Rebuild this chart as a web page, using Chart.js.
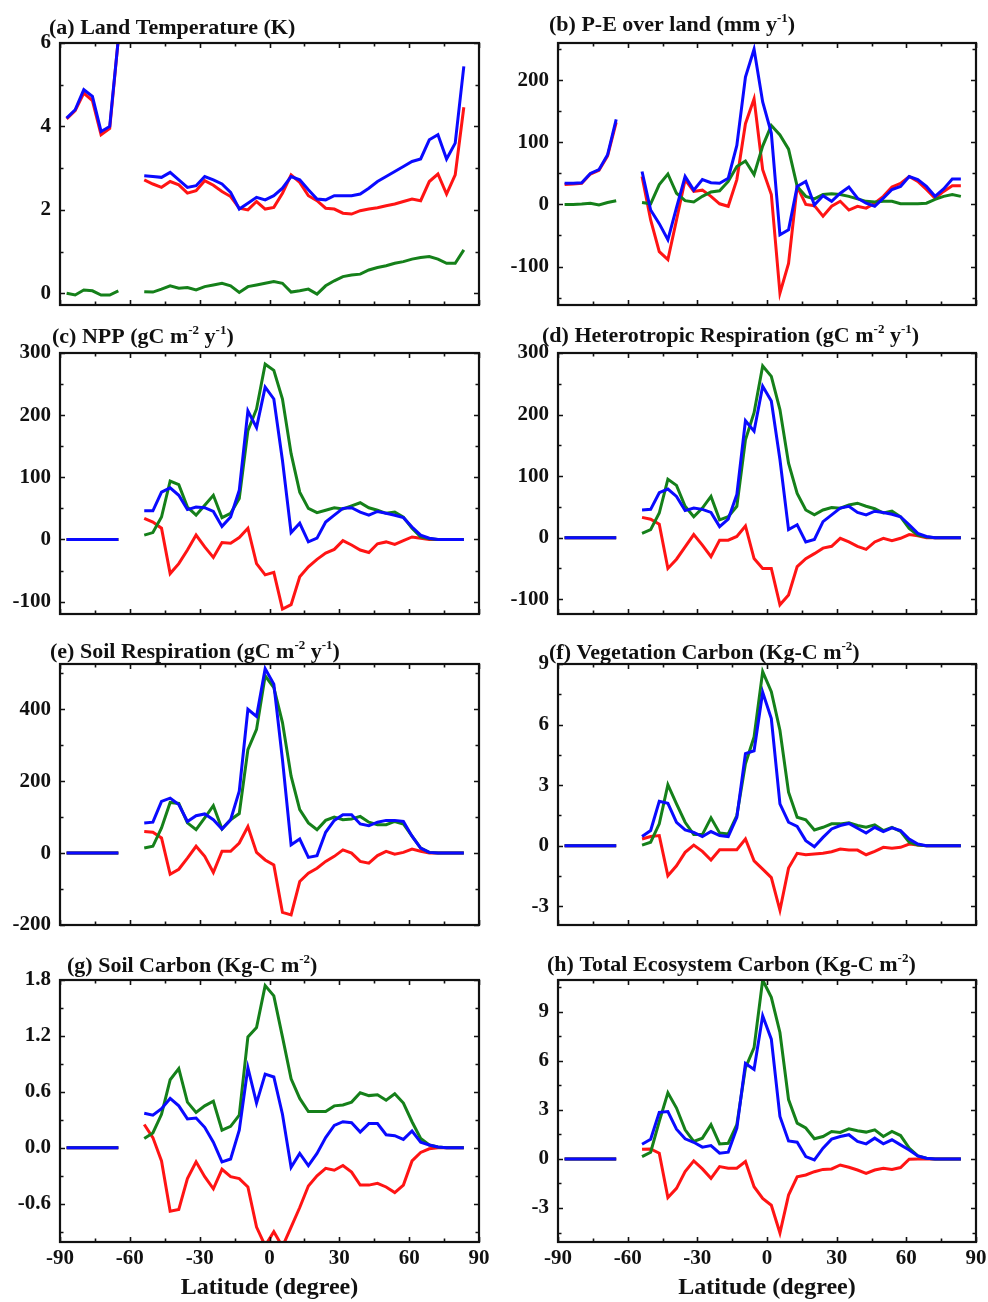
<!DOCTYPE html>
<html><head><meta charset="utf-8">
<script src="https://cdn.jsdelivr.net/npm/chart.js@4.4.1/dist/chart.umd.min.js"></script>
<style>
html,body{margin:0;padding:0;background:#fff;}
body{width:988px;height:1302px;position:relative;overflow:hidden;}
.panel{position:absolute;}
.panel canvas{display:block;}
</style></head><body>
<script>
// Gaussian-grid latitudes (degrees)
const latitudes = [-87.16,-83.48,-79.78,-76.07,-72.36,-68.65,-64.94,-61.23,-57.52,-53.81,-50.10,-46.39,-42.68,-38.97,-35.26,-31.54,-27.83,-24.12,-20.41,-16.70,-12.99,-9.28,-5.57,-1.86,1.86,5.57,9.28,12.99,16.70,20.41,24.12,27.83,31.54,35.26,38.97,42.68,46.39,50.10,53.81,57.52,61.23,64.94,68.65,72.36,76.07,79.78,83.48];
const xMajorTicks = [-90,-60,-30,0,30,60,90];
const xMinorTicks = [-75,-45,-15,15,45,75];

// (a) Land temperature
const tempBlue  = [4.2,4.4,4.88,4.72,3.88,4.0,6.1,null,null,2.82,2.8,2.78,2.9,2.72,2.54,2.58,2.8,2.72,2.62,2.42,2.02,2.16,2.3,2.24,2.34,2.52,2.8,2.72,2.48,2.26,2.24,2.34,2.34,2.34,2.38,2.52,2.68,2.8,2.92,3.04,3.16,3.22,3.68,3.8,3.22,3.6,5.44];
const tempRed   = [4.18,4.38,4.8,4.62,3.8,3.95,6.1,null,null,2.72,2.62,2.54,2.68,2.6,2.4,2.46,2.7,2.59,2.44,2.32,2.04,2.0,2.2,2.02,2.06,2.4,2.84,2.66,2.34,2.22,2.04,2.02,1.92,1.9,1.98,2.02,2.05,2.1,2.14,2.2,2.26,2.22,2.68,2.86,2.38,2.84,4.46];
const tempGreen = [0,-0.04,0.08,0.06,-0.04,-0.04,0.06,null,null,0.04,0.03,0.1,0.18,0.12,0.14,0.08,0.16,0.2,0.24,0.18,0.02,0.16,0.2,0.24,0.28,0.24,0.03,0.06,0.1,-0.02,0.18,0.3,0.4,0.44,0.46,0.56,0.62,0.66,0.72,0.76,0.82,0.86,0.88,0.82,0.72,0.72,1.04];
const tempTicks = [0,2,4,6];
const tempMinor = [1,3,5];

// (b) P-E over land
const peBlue  = [34,34,35,50,56,80,137,null,null,53,-9,-31,-57,-5,45,23,40,35,34,42,95,205,250,165,115,-49,-41,29,37,-1,14,5,18,28,10,2,-3,10,24,29,45,40,29,13,25,41,41];
const peRed   = [32,33,34,49,55,78,132,null,null,45,-25,-76,-89,-25,40,21,23,13,1,-3,40,130,170,56,16,-143,-95,29,0,-2,-19,-3,5,-9,-3,-6,2,13,28,34,45,37,24,10,21,30,30];
const peGreen = [0,0,0.5,2,-1,3,6,null,null,3,1,32,49,18,6,4,13,20,22,37,61,70,48,94,127,112,89,29,13,9,16,17,16,13,9,5,4,5,5,1,1,1,2,8,13,16,13];
const peTicks = [-100,0,100,200];
const peMinor = [-150,-50,50,150,250];

// (c) NPP
const nppBlue  = [0,0,0,0,0,0,0,null,null,46,46,76,83,71,48,52,51,45,21,36,79,207,180,245,226,127,11,26,-4,2,28,39,50,51,44,39,45,42,39,35,20,7,2,0,0,0,0];
const nppGreen = [0,0,0,0,0,0,0,null,null,7,11,36,94,88,52,39,55,71,35,42,66,175,210,282,272,226,138,76,50,43,47,51,49,54,59,51,47,42,44,36,18,4,1,0,0,0,0];
const nppRed   = [0,0,0,0,0,0,0,null,null,34,28,18,-55,-39,-17,7,-12,-29,-5,-6,3,18,-39,-57,-53,-112,-105,-60,-44,-32,-22,-16,-2,-9,-17,-21,-7,-4,-8,-2,4,2,0,0,0,0,0];
const nppTicks = [-100,0,100,200,300];
const nppMinor = [-50,50,150,250];

// (d) Heterotrophic respiration
const hrBlue  = [0,0,0,0,0,0,0,null,null,45,46,73,79,67,44,48,46,41,18,30,70,190,173,246,222,127,13,21,-7,-3,26,37,48,51,41,37,43,41,38,34,21,7,2,0,0,0,0];
const hrGreen = [0,0,0,0,0,0,0,null,null,7,13,40,95,85,51,34,48,67,29,34,51,159,203,279,262,208,121,72,45,37,45,49,48,53,56,51,47,40,43,34,15,4,1,0,0,0,0];
const hrRed   = [0,0,0,0,0,0,0,null,null,33,30,22,-50,-35,-15,5,-12,-31,-4,-4,2,19,-34,-50,-50,-109,-93,-47,-34,-26,-17,-14,-1,-7,-14,-19,-7,-1,-5,-1,5,3,0,0,0,0,0];
const hrTicks = [-100,0,100,200,300];
const hrMinor = [-50,50,150,250];

// (e) Soil respiration
const srBlue  = [0,0,0,0,0,0,0,null,null,84,86,144,153,135,88,104,109,93,67,93,172,400,380,513,470,260,23,39,-12,-7,58,91,107,107,81,76,86,91,91,88,47,14,2,0,0,0,0];
const srGreen = [0,0,0,0,0,0,0,null,null,14,19,70,141,138,84,65,98,132,67,93,110,288,344,493,460,363,214,121,84,65,91,100,93,95,102,86,79,79,88,81,47,14,2,0,0,0,0];
const srRed   = [0,0,0,0,0,0,0,null,null,60,58,42,-59,-45,-14,19,-9,-54,5,5,28,74,2,-19,-33,-165,-172,-79,-56,-42,-23,-9,9,0,-23,-28,-7,5,-3,2,11,5,0,0,0,0,0];
const srTicks = [-200,0,200,400];
const srMinor = [-100,100,300,500];

// (f) Vegetation carbon
const vcBlue  = [0,0,0,0,0,0,0,null,null,0.45,0.75,2.2,2.1,1.16,0.78,0.66,0.45,0.7,0.5,0.45,1.4,4.56,4.7,7.6,6.3,2.07,1.16,0.95,0.25,-0.05,0.41,0.83,1.0,1.1,0.86,0.63,0.91,0.7,0.88,0.75,0.33,0.08,0,0,0,0,0];
const vcGreen = [0,0,0,0,0,0,0,null,null,0.03,0.17,1.08,3.02,2.07,1.16,0.55,0.55,1.38,0.63,0.58,1.49,4.06,5.39,8.62,7.63,5.72,2.65,1.41,1.28,0.78,0.91,1.08,1.08,1.13,1.0,0.91,1.03,0.75,0.91,0.71,0.17,0.03,0,0,0,0,0];
const vcRed   = [0,0,0,0,0,0,0,null,null,0.33,0.45,0.5,-1.49,-1.0,-0.33,0.03,-0.28,-0.71,-0.2,-0.2,-0.2,0.33,-0.75,-1.16,-1.58,-3.2,-1.11,-0.38,-0.45,-0.41,-0.38,-0.3,-0.17,-0.22,-0.22,-0.45,-0.28,-0.08,-0.13,-0.08,0.08,0.03,0,0,0,0,0];
const vcTicks = [-3,0,3,6,9];
const vcMinor = [-1.5,1.5,4.5,7.5];

// (g) Soil carbon
const scBlue  = [0,0,0,0,0,0,0,null,null,0.37,0.35,0.42,0.53,0.45,0.31,0.32,0.22,0.06,-0.15,-0.12,0.19,0.86,0.48,0.79,0.76,0.36,-0.21,-0.06,-0.19,-0.06,0.11,0.24,0.28,0.27,0.17,0.26,0.26,0.14,0.13,0.09,0.18,0.06,0.03,0.01,0,0,0];
const scGreen = [0,0,0,0,0,0,0,null,null,0.1,0.16,0.36,0.73,0.85,0.49,0.38,0.45,0.5,0.19,0.23,0.35,1.19,1.29,1.74,1.63,1.19,0.74,0.53,0.39,0.39,0.39,0.45,0.46,0.49,0.59,0.56,0.57,0.51,0.58,0.48,0.28,0.1,0.03,0.01,0,0,0];
const scRed   = [0,0,0,0,0,0,0,null,null,0.25,0.11,-0.14,-0.68,-0.66,-0.33,-0.15,-0.31,-0.44,-0.23,-0.31,-0.33,-0.42,-0.85,-1.05,-0.9,-1.06,-0.85,-0.64,-0.41,-0.3,-0.22,-0.24,-0.19,-0.26,-0.4,-0.4,-0.38,-0.42,-0.48,-0.4,-0.14,-0.05,-0.01,0,0,0,0];
const scTicks = [-0.6,0,0.6,1.2,1.8];
const scMinor = [-0.9,-0.3,0.3,0.9,1.5];

// (h) Total ecosystem carbon
const tcBlue  = [0,0,0,0,0,0,0,null,null,0.9,1.2,2.85,2.9,1.82,1.23,1.02,0.72,0.82,0.35,0.41,1.88,5.84,5.47,8.75,7.32,2.6,1.1,1.02,0.14,-0.06,0.66,1.21,1.37,1.48,1.07,0.92,1.27,0.92,1.17,0.86,0.55,0.18,0.04,0,0,0,0];
const tcGreen = [0,0,0,0,0,0,0,null,null,0.14,0.41,2.3,4.04,3.11,1.78,1.07,1.27,2.09,0.92,0.96,2.09,5.57,6.8,10.94,9.88,7.73,3.63,2.19,1.89,1.23,1.37,1.68,1.62,1.84,1.72,1.64,1.78,1.37,1.68,1.43,0.66,0.18,0.04,0,0,0,0];
const tcRed   = [0,0,0,0,0,0,0,null,null,0.59,0.61,0.35,-2.36,-1.8,-0.78,-0.12,-0.61,-1.19,-0.47,-0.57,-0.57,-0.16,-1.7,-2.42,-2.83,-4.53,-2.21,-1.09,-0.98,-0.78,-0.64,-0.61,-0.37,-0.51,-0.68,-0.88,-0.68,-0.57,-0.64,-0.53,-0.02,0,0,0,0,0,0];
const tcTicks = [-3,0,3,6,9];
const tcMinor = [-4.5,-1.5,1.5,4.5,7.5,10.5];

// ---------- styling / layout ----------
const FONT = '"Liberation Serif","Times New Roman",serif';
const BLUE = '#0a0aff', GREEN = '#15801a', RED = '#ff1414';
const COLS = [{left:0, width:494, yW:60, padR:15}, {left:494, width:494, yW:64, padR:12}];
const ROWS = [{top:43, bottom:305}, {top:353, bottom:614}, {top:664, bottom:925}, {top:980, bottom:1242}];

const panels = [
  {col:0,row:0,title:[['(a) Land Temperature (K)',0]],tx:49,tdy:-9,yMin:-0.28,yMax:6,yMajor:tempTicks,yMinor:tempMinor,s:[tempBlue,tempGreen,tempRed]},
  {col:1,row:0,title:[['(b) P-E over land (mm y',0],['-1',1],[')',0]],tx:55,tdy:-12,yMin:-162,yMax:260,yMajor:peTicks,yMinor:peMinor,s:[peBlue,peGreen,peRed]},
  {col:0,row:1,title:[['(c) NPP (gC m',0],['-2',1],[' y',0],['-1',1],[')',0]],tx:52,tdy:-10,yMin:-120,yMax:300,yMajor:nppTicks,yMinor:nppMinor,s:[nppBlue,nppGreen,nppRed]},
  {col:1,row:1,title:[['(d) Heterotropic Respiration (gC m',0],['-2',1],[' y',0],['-1',1],[')',0]],tx:48,tdy:-11,yMin:-124,yMax:300,yMajor:hrTicks,yMinor:hrMinor,s:[hrBlue,hrGreen,hrRed]},
  {col:0,row:2,title:[['(e) Soil Respiration (gC m',0],['-2',1],[' y',0],['-1',1],[')',0]],tx:50,tdy:-6,yMin:-200,yMax:526,yMajor:srTicks,yMinor:srMinor,s:[srBlue,srGreen,srRed]},
  {col:1,row:2,title:[['(f) Vegetation Carbon (Kg-C m',0],['-2',1],[')',0]],tx:55,tdy:-5,yMin:-3.93,yMax:9,yMajor:vcTicks,yMinor:vcMinor,s:[vcBlue,vcGreen,vcRed]},
  {col:0,row:3,title:[['(g) Soil Carbon (Kg-C m',0],['-2',1],[')',0]],tx:67,tdy:-8,yMin:-1.01,yMax:1.8,yMajor:scTicks,yMinor:scMinor,s:[scBlue,scGreen,scRed],fmt:v=>v.toFixed(1)},
  {col:1,row:3,title:[['(h) Total Ecosystem Carbon (Kg-C m',0],['-2',1],[')',0]],tx:53,tdy:-9,yMin:-5.08,yMax:10.94,yMajor:tcTicks,yMinor:tcMinor,s:[tcBlue,tcGreen,tcRed]}
];

const framePlugin = {
  id: 'frame',
  afterDatasetsDraw(chart, args, opts) {
    const {ctx, chartArea: a, scales: {x, y}} = chart;
    ctx.save();
    ctx.strokeStyle = '#111';
    ctx.lineWidth = 1.6;
    ctx.beginPath();
    const xt = (vals, len) => vals.forEach(v => {
      const px = Math.round(x.getPixelForValue(v)) + 0.5;
      ctx.moveTo(px, a.bottom); ctx.lineTo(px, a.bottom - len);
      ctx.moveTo(px, a.top); ctx.lineTo(px, a.top + len);
    });
    const yt = (vals, len) => vals.forEach(v => {
      const py = Math.round(y.getPixelForValue(v)) + 0.5;
      ctx.moveTo(a.left, py); ctx.lineTo(a.left + len, py);
      ctx.moveTo(a.right, py); ctx.lineTo(a.right - len, py);
    });
    xt(xMajorTicks, 5); xt(xMinorTicks, 3.5);
    yt(opts.yMajor, 5); yt(opts.yMinor, 3.5);
    ctx.stroke();
    ctx.lineWidth = 2.2;
    ctx.strokeRect(a.left, a.top, a.right - a.left, a.bottom - a.top);
    // panel title with superscripts
    let tx = opts.tx;
    const by = a.top + opts.tdy;
    ctx.fillStyle = '#111';
    ctx.textBaseline = 'alphabetic';
    ctx.textAlign = 'left';
    opts.title.forEach(([t, sup]) => {
      ctx.font = sup ? 'bold 13px ' + FONT : 'bold 22px ' + FONT;
      ctx.fillText(t, tx, sup ? by - 9 : by);
      tx += ctx.measureText(t).width;
    });
    ctx.restore();
  }
};

panels.forEach(p => {
  const col = COLS[p.col], row = ROWS[p.row];
  const bottomRow = p.row === 3;
  const xH = bottomRow ? 60 : 14;
  const top = row.top - 43;
  const height = 43 + (row.bottom - row.top) + xH;
  const div = document.createElement('div');
  div.className = 'panel';
  div.style.left = col.left + 'px';
  div.style.top = top + 'px';
  div.style.width = col.width + 'px';
  div.style.height = height + 'px';
  const cv = document.createElement('canvas');
  cv.width = col.width; cv.height = height;
  div.appendChild(cv);
  document.body.appendChild(div);
  const colors = [BLUE, GREEN, RED];
  const fmt = p.fmt || (v => String(v));
  new Chart(cv, {
    type: 'line',
    data: {
      datasets: p.s.map((vals, k) => ({
        data: latitudes.map((lat, i) => ({x: lat, y: vals[i]})),
        borderColor: colors[k],
        borderWidth: 3,
        pointRadius: 0,
        tension: 0,
        spanGaps: false,
        fill: false,
        clip: 0
      }))
    },
    options: {
      responsive: false,
      animation: false,
      devicePixelRatio: 1,
      layout: {padding: {top: 43, left: 0, right: col.padR, bottom: 0}},
      plugins: {
        legend: {display: false},
        tooltip: {enabled: false},
        frame: {yMajor: p.yMajor, yMinor: p.yMinor, title: p.title, tx: p.tx, tdy: p.tdy}
      },
      scales: {
        x: {
          type: 'linear', min: -90, max: 90,
          afterBuildTicks: s => { s.ticks = xMajorTicks.map(v => ({value: v})); },
          afterFit: s => { s.height = xH; s.paddingLeft = 0; s.paddingRight = 0; },
          grid: {display: false, drawTicks: false, tickLength: 0},
          border: {display: false},
          ticks: {display: bottomRow, autoSkip: false, maxRotation: 0, padding: 4, color: '#111',
                  font: {family: FONT, size: 21, weight: 'bold'}},
          title: {display: bottomRow, text: 'Latitude (degree)', color: '#111',
                  font: {family: FONT, size: 24, weight: 'bold'}, padding: {top: 0, bottom: 0}}
        },
        y: {
          type: 'linear', min: p.yMin, max: p.yMax,
          afterBuildTicks: s => { s.ticks = p.yMajor.map(v => ({value: v})); },
          afterFit: s => { s.width = col.yW; s.paddingTop = 0; s.paddingBottom = 0; },
          grid: {display: false, drawTicks: false, tickLength: 0},
          border: {display: false},
          ticks: {autoSkip: false, padding: 9, color: '#111', callback: v => fmt(v),
                  font: {family: FONT, size: 21, weight: 'bold'}}
        }
      }
    },
    plugins: [framePlugin]
  });
});
</script>
</body></html>
